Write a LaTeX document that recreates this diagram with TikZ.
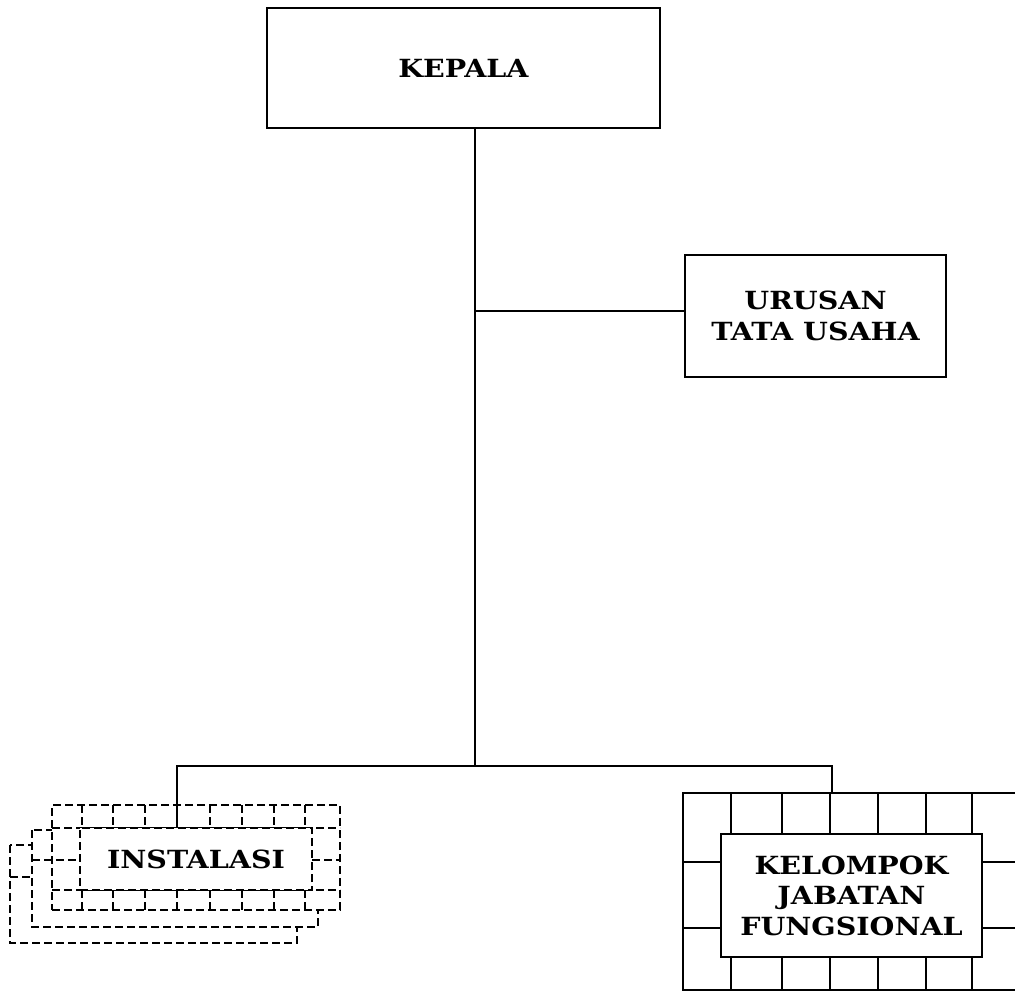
\documentclass[tikz,border=0pt]{standalone}
\usepackage{fontspec}
\newfontfamily\bkfont{DejaVu Serif}[FakeStretch=1.14]
\begin{document}
\begin{tikzpicture}[x=1pt,y=-1pt,
  txt/.style={font=\bkfont\bfseries\fontsize{25}{30.5}\selectfont, align=center},
  solidbox/.style={draw, line width=2.5pt, fill=white, inner sep=0pt, txt},
  conn/.style={line width=2.5pt},
  dsh/.style={line width=1.9pt, dash pattern=on 8pt off 4pt},
  grd/.style={line width=2.5pt}]
\useasboundingbox (0,0) rectangle (1015,995);
\fill[white] (0,0) rectangle (1015,995);

% KEPALA
\node[solidbox, minimum width=393pt, minimum height=120pt] (kepala) at (463.5,68) {KEPALA};
% URUSAN
\node[solidbox, minimum width=261pt, minimum height=122pt] (urusan) at (815.5,316) {URUSAN\\TATA USAHA};

\coordinate (jb) at (475,766);
\coordinate (ju) at (475,311);
\coordinate (jl) at (177,766);
\coordinate (jr) at (832,766);

\draw[conn] (kepala.south -| jb) -- (jb);
\draw[conn] (ju) -- (ju -| urusan.west);

% KELOMPOK grid
\begin{scope}
\clip (600,780) rectangle (1015,995);
\foreach \y in {793,862,928,990} \draw[grd] (683,\y) -- (1020,\y);
\foreach \x in {683,731,782,830,878,926,972} \draw[grd] (\x,792) -- (\x,991);
\end{scope}
\node[solidbox, minimum width=261pt, minimum height=123pt] (kelompok) at (851.5,895.5) {KELOMPOK\\JABATAN\\FUNGSIONAL};
\coordinate (gt) at (832,793);

% INSTALASI stacked dashed layers
\draw[dsh, fill=white] (10,845) rectangle (297,943);
\draw[dsh] (10,877) -- (32,877);
\draw[dsh, fill=white] (32,830) rectangle (318,927);
\node[draw, dsh, fill=white, minimum width=288pt, minimum height=105pt, inner sep=0pt] (inst) at (196,857.5) {};
\foreach \y in {828,890} \draw[dsh] (52,\y) -- (340,\y);
\draw[dsh] (32,860) -- (80,860);
\draw[dsh] (312,860) -- (340,860);
\foreach \x in {82,113,145,210,242,274,305} {
  \draw[dsh] (\x,805) -- (\x,828);
}
\foreach \x in {82,113,145,177,210,242,274,305} {
  \draw[dsh] (\x,890) -- (\x,910);
}
\node[draw, dsh, fill=white, minimum width=232pt, minimum height=62pt, inner sep=0pt, txt] (instalasi) at (196,859) {INSTALASI};

% bottom connectors
\draw[conn] (instalasi.north -| jl) -- (jl) -- (jr) -- (gt);
\end{tikzpicture}
\end{document}
